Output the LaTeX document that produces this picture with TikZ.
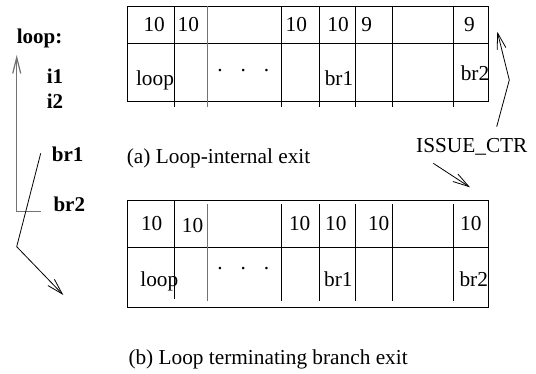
\documentclass[tikz,border=0pt]{standalone}
\usepackage{fontspec}
\setmainfont{Liberation Serif}
\usetikzlibrary{arrows.meta}
\begin{document}
\begin{tikzpicture}[x=1pt,y=-1pt,
  txt/.style={inner sep=0pt,anchor=base,font=\fontsize{21.3}{25}\selectfont},
  lbl/.style={inner sep=0pt,anchor=base west,font=\fontsize{21}{25}\selectfont\bfseries},
  grid/.style={line width=0.9pt,black},
  sep/.style={line width=1.3pt,black!55},
  arr/.style={line width=0.8pt,-{Straight Barb[length=16pt,width=9pt]}},
  garr/.style={line width=1.2pt,black!55,-{Straight Barb[length=16pt,width=8pt]}}]
\useasboundingbox (0,0) rectangle (536,373);

% ---- table (a)
\draw[grid] (127.5,6) rectangle (488,101);
\draw[grid] (127.5,43) -- (488,43);
\foreach \x in {174.3,281.7,319,355.7,392,453.3}
  \draw[grid] (\x,6) -- (\x,107);
\draw[sep] (207.7,6) -- (207.7,107);
\node[txt] (a1) at (154.2,31.7) {10};
\node[txt] (a2) at (188.3,31.7) {10};
\node[txt] (a3) at (296.3,31.7) {10};
\node[txt] (a4) at (338,31.7) {10};
\node[txt] (a5) at (366.7,31.7) {9};
\node[txt] (a6) at (469.5,31.7) {9};
\node[txt] (aloop) at (155,85) {loop};
\node[txt] (adots) at (243.3,71) {.\hspace{18pt}.\hspace{18pt}.};
\node[txt] (abr1) at (339,85) {br1};
\node[txt] (abr2) at (475,80) {br2};
\node[txt,anchor=base west] (capa) at (126.7,163.3) {(a) Loop-internal exit};

% ---- table (b)
\draw[grid] (127.5,200.7) rectangle (488,307.7);
\draw[grid] (127.5,247.7) -- (488,247.7);
\draw[grid] (174.3,200.7) -- (174.3,299);
\foreach \x in {281.7,319,355.7,392,453.3}
  \draw[grid] (\x,204) -- (\x,301);
\draw[sep] (207.7,204) -- (207.7,301);
\node[txt] (b1) at (151.7,230) {10};
\node[txt] (b2) at (192.5,232.3) {10};
\node[txt] (b3) at (299.7,230) {10};
\node[txt] (b4) at (335.8,230) {10};
\node[txt] (b5) at (378.7,230) {10};
\node[txt] (b6) at (470.8,230) {10};
\node[txt] (bloop) at (159.3,286.7) {loop};
\node[txt] (bdots) at (243.3,269.5) {.\hspace{18pt}.\hspace{18pt}.};
\node[txt] (bbr1) at (338.3,286.7) {br1};
\node[txt] (bbr2) at (473.7,286) {br2};
\node[txt,anchor=base west] (capb) at (128.3,364.5) {(b) Loop terminating branch exit};

% ---- issue counter and its pointers
\node[txt,anchor=base west] (ctr) at (416,152.7) {ISSUE\_CTR};
\coordinate (upfrom) at (496.7,126.7);
\coordinate (upbend) at (509.3,80);
\coordinate (uptip) at (497.3,31.7);
\coordinate (dnfrom) at (433.3,163.3);
\coordinate (dntip) at (470,187.3);
\draw[arr] (upfrom) -- (upbend) -- (uptip);
\draw[arr] (dnfrom) -- (dntip);

% ---- loop code listing
\node[lbl] (lloop) at (16.7,43.3) {loop:};
\node[lbl] (li1) at (46.7,83.3) {i1};
\node[lbl] (li2) at (46.7,108.3) {i2};
\node[lbl] (lbr1) at (51.7,161.7) {br1};
\node[lbl] (lbr2) at (53.3,211.7) {br2};
\coordinate (backfoot) at (16.7,211.7);
\coordinate (backend) at (40.7,211.7);
\coordinate (backtip) at (16.7,55);
\draw[garr] (backend) -- (backfoot) -- (backtip);
\coordinate (exfrom) at (40.7,153.3);
\coordinate (exbend) at (16.7,246.7);
\coordinate (extip) at (63.3,295);
\draw[arr] (exfrom) -- (exbend) -- (extip);
\end{tikzpicture}
\end{document}
